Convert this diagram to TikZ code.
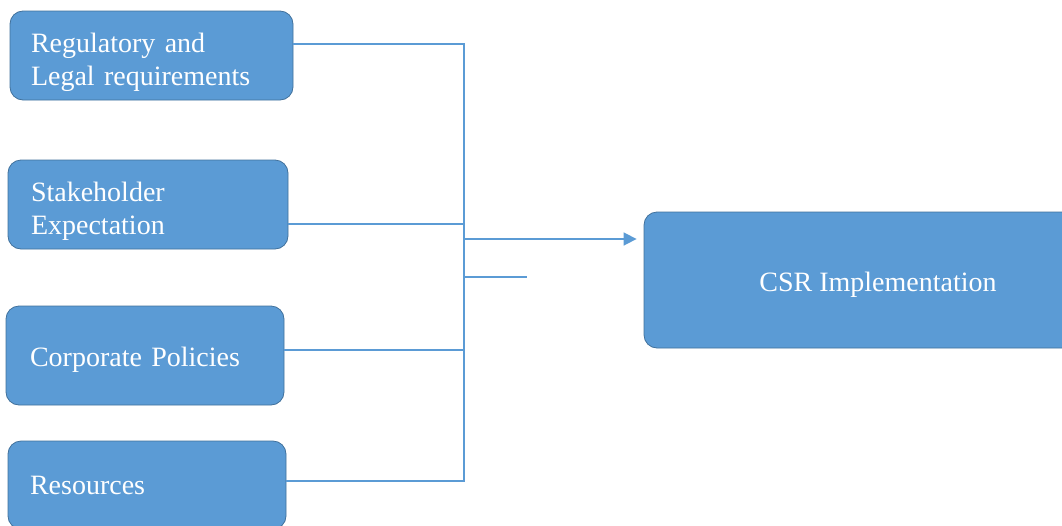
\documentclass[tikz,border=0pt]{standalone}
\usepackage{fontspec}
\setmainfont{Liberation Serif}
\usetikzlibrary{arrows.meta}
\definecolor{boxblue}{HTML}{5B9BD5}
\definecolor{boxedge}{HTML}{41719C}
\definecolor{linkblue}{HTML}{5B9BD5}
\newcommand{\lowered}[2]{\raisebox{-#1}[\height][\depth]{#2}}
\tikzset{
  factor/.style={draw=boxedge, line width=0.8pt, fill=boxblue, rounded corners=13pt,
    text=white, font=\fontsize{28}{33}\selectfont, align=left, inner sep=0pt},
  link/.style={draw=linkblue, line width=1.6pt}
}
\begin{document}
\begin{tikzpicture}[x=1pt,y=-1pt]
\useasboundingbox (0,0) rectangle (1062,525);
\node[factor, minimum width=283pt, minimum height=89pt, text width=241pt] (reg) at (151.5,55.5) {\lowered{7pt}{Regulatory and}\\\lowered{7pt}{Legal requirements}};
\node[factor, minimum width=280pt, minimum height=89pt, text width=234pt] (stake) at (148,204.5) {\lowered{7pt}{Stakeholder}\\\lowered{7pt}{Expectation}};
\node[factor, minimum width=278pt, minimum height=99pt, text width=230pt] (corp) at (145,355.5) {\lowered{4pt}{Corporate Policies}};
\node[factor, minimum width=278pt, minimum height=88pt, text width=234pt] (res) at (147,485) {Resources};
\node[factor, minimum width=468pt, minimum height=136pt, align=center] (csr) at (878,280) {\lowered{5pt}{CSR Implementation}};
\coordinate (top) at (464,44);
\coordinate (j2) at (464,224);
\coordinate (ja) at (464,239);
\coordinate (js) at (464,277);
\coordinate (stubend) at (527,277);
\coordinate (j3) at (464,350);
\coordinate (bottom) at (464,481);
\draw[link] (reg.east |- top) -- (top) -- (bottom) -- (res.east |- bottom);
\draw[link] (stake.east |- j2) -- (j2);
\draw[link] (corp.east |- j3) -- (j3);
\draw[link] (js) -- (stubend);
\draw[link, -{Triangle[length=13pt,width=13pt]}, shorten >=7pt] (ja) -- (ja -| csr.west);
\end{tikzpicture}
\end{document}
